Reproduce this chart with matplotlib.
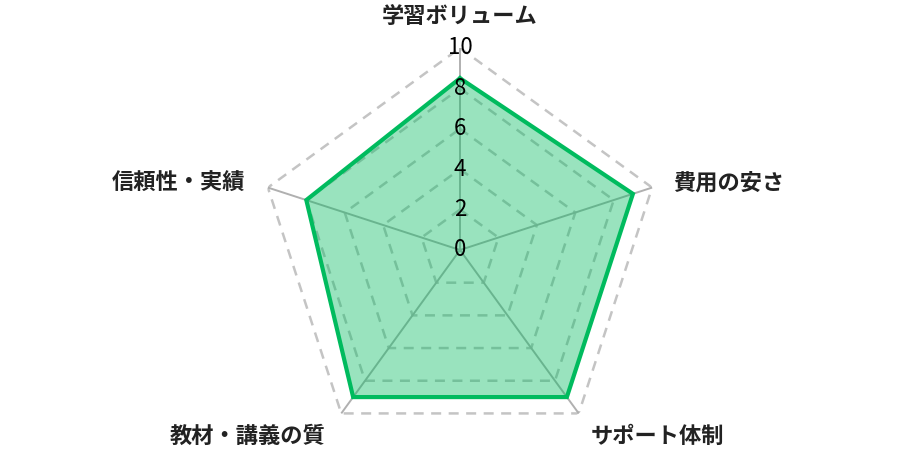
import numpy as np
import matplotlib
matplotlib.use("Agg")
import matplotlib.pyplot as plt

plt.rcParams['font.family'] = ['Noto Sans CJK JP', 'DejaVu Sans']

categories = ["学習ボリューム", "費用の安さ", "サポート体制", "教材・講義の質", "信頼性・実績"]
values = [8.5, 9, 9, 9, 8]
tick_values = [0, 2, 4, 6, 8, 10]
tick_labels = ["0", "2", "4", "6", "8", "10"]

line_color = "#00bb5e"
grid_color = "#c4c4c4"
spoke_color = "#b0b0b0"

fig = plt.figure(figsize=(9, 4.5), dpi=100)
R = 202
cx, cy = 460, 450 - 250
ax = fig.add_axes([(cx - R) / 900, (cy - R) / 450, 2 * R / 900, 2 * R / 450], projection='polar')
ax.set_theta_offset(np.pi / 2)
ax.set_theta_direction(-1)
ax.set_ylim(0, 10)
ax.grid(False)
ax.spines['polar'].set_visible(False)
ax.set_xticks([])
ax.set_yticks([])
ax.patch.set_alpha(0)

n = len(categories)
angles = np.linspace(0, 2 * np.pi, n, endpoint=False)
closed = np.concatenate([angles, angles[:1]])

# grid rings
for lv in tick_values[1:]:
    ax.plot(closed, [lv] * (n + 1), color=grid_color, lw=1.8, ls=(0, (4, 3)), zorder=1)
# spokes
for a in angles:
    ax.plot([a, a], [0, tick_values[-1]], color=spoke_color, lw=1.4, zorder=1)

vals = np.array(values + values[:1])
ax.fill(closed, vals, color=line_color, alpha=0.4, lw=0, zorder=2)
ax.plot(closed, vals, color=line_color, lw=3, zorder=3, solid_joinstyle='miter')

for v, t in zip(tick_values, tick_labels):
    ax.text(0, v, t, ha='center', va='center', fontsize=16, color='black', zorder=5)

offsets = [(0, 31, 'center'), (21, 4, 'left'), (12, -23, 'left'), (-16, -23, 'right'), (-23, 4, 'right')]
for a, lab, (dx, dy, ha) in zip(angles, categories, offsets):
    ax.annotate(lab, xy=(a, tick_values[-1]), xytext=(dx, dy), textcoords='offset pixels',
                ha=ha, va='center', fontsize=16, fontweight='bold', color='#222222',
                annotation_clip=False, zorder=5)

fig.savefig("out.png", dpi=100)
